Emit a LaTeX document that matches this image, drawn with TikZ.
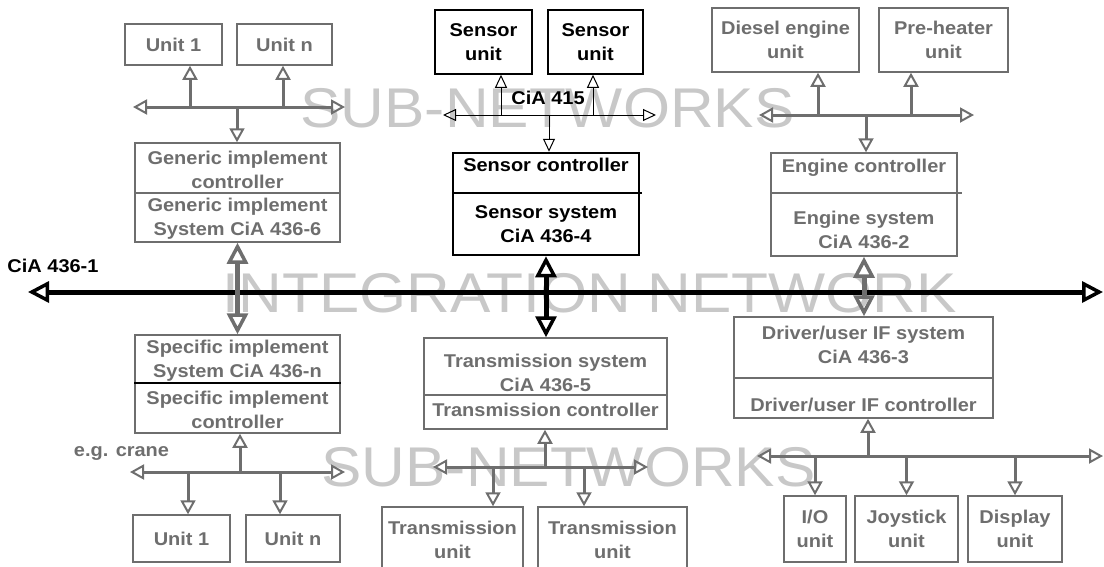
\documentclass[tikz,border=0pt]{standalone}
\usepackage{fontspec}
\setmainfont{Liberation Sans}[FakeStretch=1.08]
\usetikzlibrary{arrows.meta,positioning}
\definecolor{LineGray}{HTML}{6E6E6E}
\definecolor{MarkGray}{HTML}{C8C8C8}
\tikzset{
  lbl/.style={font=\fontsize{18.5}{24}\selectfont\bfseries,text=LineGray,align=center,inner sep=0pt},
  unitbox/.style={lbl,draw=LineGray,line width=1.5pt,fill=white},
  sensbox/.style={unitbox,draw=black,text=black},
  wmark/.style={font=\fontsize{56}{60}\selectfont,text=MarkGray,inner sep=0pt},
  subbus/.style={LineGray,line width=3pt,>={Triangle[open,length=14pt,width=15pt,line width=2pt]}},
  sensbus/.style={black,line width=1pt,>={Triangle[open,length=13pt,width=12pt,line width=1pt]}},
  intbus/.style={line width=5pt,>={Triangle[open,length=21pt,width=21pt,line width=3.5pt]}},
  divider/.style={LineGray,line width=1.5pt}
}
\begin{document}
\begin{tikzpicture}[x=1pt,y=-1pt]
\useasboundingbox (0,0) rectangle (1104,566);
% background lettering
\node[wmark] (wm1) at (547.5,108) {SUB-NETWORKS};
\node[wmark] (wm2) at (589.5,293) {INTEGRATION NETWORK};
\node[wmark] (wm3) at (568.5,467) {SUB-NETWORKS};

% integration network
\coordinate (il) at (28,292);
\coordinate (ir) at (1103,292);
\draw[intbus,<->] (il) -- (ir);
\node[lbl,text=black] (cia1) at (53,266) {CiA 436-1};

% generic implement
\node[unitbox,minimum width=97pt,minimum height=41pt] (gu1) at (173.5,44.5) {Unit 1};
\node[unitbox,minimum width=95pt,minimum height=41pt] (gun) at (284.5,44.5) {Unit n};
\node[unitbox,minimum width=205pt,minimum height=99pt] (gen) at (237.5,192.5) {};
\draw[divider] (gen.west |- 0,193) -- (gen.east |- 0,193);
\node[lbl] (genT) at (237.5,169.5) {Generic implement\\controller};
\node[lbl] (genB) at (237.5,218.5) {Generic implement\\System CiA 436-6};
\coordinate (gl) at (133,107);
\coordinate (gr) at (345,107);
\coordinate (g1) at (190,107);
\coordinate (gn) at (283,107);
\coordinate (gc) at (237,107);
\draw[subbus,<->] (gl) -- (gr);
\draw[subbus,->] (g1) -- (g1 |- gu1.south);
\draw[subbus,->] (gn) -- (gn |- gun.south);
\draw[subbus,->] (gc) -- (gc |- gen.north);

% sensor
\node[sensbox,minimum width=97pt,minimum height=64pt] (su1) at (483.5,42) {Sensor\\unit};
\node[sensbox,minimum width=95pt,minimum height=64pt] (su2) at (595.5,42) {Sensor\\unit};
\node[sensbox,line width=2.5pt,minimum width=186pt,minimum height=102pt] (sen) at (546,204) {};
\draw[black,line width=1.5pt] (sen.west |- 0,193) -- ([xshift=2pt]sen.east |- 0,193);
\node[lbl,text=black] (senT) at (546,165) {Sensor controller};
\node[lbl,text=black] (senB) at (546,224) {Sensor system\\CiA 436-4};
\node[lbl,text=black] (cia415) at (548,98) {CiA 415};
\coordinate (sl) at (443,115);
\coordinate (sr) at (656,115);
\coordinate (s1) at (501,115);
\coordinate (s2) at (593,115);
\coordinate (sc) at (549,115);
\draw[sensbus,<->] (sl) -- (sr);
\draw[sensbus,->] (s1) -- (s1 |- su1.south);
\draw[sensbus,->] (s2) -- (s2 |- su2.south);
\draw[sensbus,->] (sc) -- (sc |- sen.north);

% engine
\node[unitbox,minimum width=147pt,minimum height=64pt] (die) at (785.5,40) {Diesel engine\\unit};
\node[unitbox,minimum width=129pt,minimum height=64pt] (pre) at (943.5,40) {Pre-heater\\unit};
\node[unitbox,minimum width=186pt,minimum height=103pt] (eng) at (864,204.5) {};
\draw[divider] (eng.west |- 0,193) -- ([xshift=4pt]eng.east |- 0,193);
\node[lbl] (engT) at (864,168) {Engine controller};
\node[lbl] (engB) at (864,230) {Engine system\\CiA 436-2};
\coordinate (el) at (759,115);
\coordinate (er) at (974,115);
\coordinate (e1) at (818,115);
\coordinate (e2) at (911,115);
\coordinate (ec) at (866,115);
\draw[subbus,<->] (el) -- (er);
\draw[subbus,->] (e1) -- (e1 |- die.south);
\draw[subbus,->] (e2) -- (e2 |- pre.south);
\draw[subbus,->] (ec) -- (ec |- eng.north);

% specific implement
\node[unitbox,minimum width=205pt,minimum height=98pt] (spec) at (237.5,384) {};
\draw[black,line width=1.5pt] (spec.west |- 0,383) -- (spec.east |- 0,383);
\node[lbl] (specT) at (237.5,360.5) {Specific implement\\System CiA 436-n};
\node[lbl] (specB) at (237.5,409.5) {Specific implement\\controller};
\node[lbl] (crane) at (121.5,453) {e.g. crane};
\node[unitbox,minimum width=97pt,minimum height=47pt] (bu1) at (181.5,538.5) {Unit 1};
\node[unitbox,minimum width=94pt,minimum height=47pt] (bun) at (293,538.5) {Unit n};
\coordinate (pl) at (130,472);
\coordinate (pr) at (345,472);
\coordinate (p1) at (188,472);
\coordinate (pn) at (280,472);
\coordinate (pc) at (240,472);
\draw[subbus,<->] (pl) -- (pr);
\draw[subbus,->] (p1) -- (p1 |- bu1.north);
\draw[subbus,->] (pn) -- (pn |- bun.north);
\draw[subbus,->] (pc) -- (pc |- spec.south);

% transmission
\node[unitbox,minimum width=243pt,minimum height=91pt] (tra) at (545.5,383.5) {};
\draw[divider] (tra.west |- 0,395) -- (tra.east |- 0,395);
\node[lbl] (traT) at (545.5,372.5) {Transmission system\\CiA 436-5};
\node[lbl] (traB) at (545.5,410) {Transmission controller};
\node[unitbox,minimum width=141pt,minimum height=62pt] (tu1) at (452.5,538) {};
\node[unitbox,minimum width=149pt,minimum height=62pt] (tu2) at (612.5,538) {};
\node[lbl] (tu1T) at (452.5,540) {Transmission\\unit};
\node[lbl] (tu2T) at (612.5,540) {Transmission\\unit};
\coordinate (tl) at (433,467);
\coordinate (tr) at (648,467);
\coordinate (t1) at (493,467);
\coordinate (t2) at (584,467);
\coordinate (tc) at (545,467);
\draw[subbus,<->] (tl) -- (tr);
\draw[subbus,->] (t1) -- (t1 |- tu1.north);
\draw[subbus,->] (t2) -- (t2 |- tu2.north);
\draw[subbus,->] (tc) -- (tc |- tra.south);

% driver / user interface
\node[unitbox,minimum width=259pt,minimum height=101pt] (drv) at (863.5,367.5) {};
\draw[divider] (drv.west |- 0,378) -- (drv.east |- 0,378);
\node[lbl] (drvT) at (863.5,345) {Driver/user IF system\\CiA 436-3};
\node[lbl] (drvB) at (863.5,405) {Driver/user IF controller};
\node[unitbox,minimum width=62pt,minimum height=66pt] (io) at (815,529) {I/O\\unit};
\node[unitbox,minimum width=103pt,minimum height=66pt] (joy) at (906.5,529) {Joystick\\unit};
\node[unitbox,minimum width=94pt,minimum height=66pt] (dis) at (1015,529) {Display\\unit};
\coordinate (dl) at (757,456);
\coordinate (dr) at (1103,456);
\coordinate (dc) at (868,456);
\draw[subbus,<->] (dl) -- (dr);
\foreach \n in {io,joy,dis}
  \draw[subbus,->] (\n.north |- dl) -- (\n.north);
\draw[subbus,->] (dc) -- (dc |- drv.south);

% system links to the integration network
\draw[intbus,LineGray,<->] (gen.south) -- (spec.north);
\draw[intbus,black,<->] (sen.south) -- (sen.south |- tra.north);
\draw[intbus,LineGray,<->] (eng.south) -- (eng.south |- drv.north);
\end{tikzpicture}
\end{document}
